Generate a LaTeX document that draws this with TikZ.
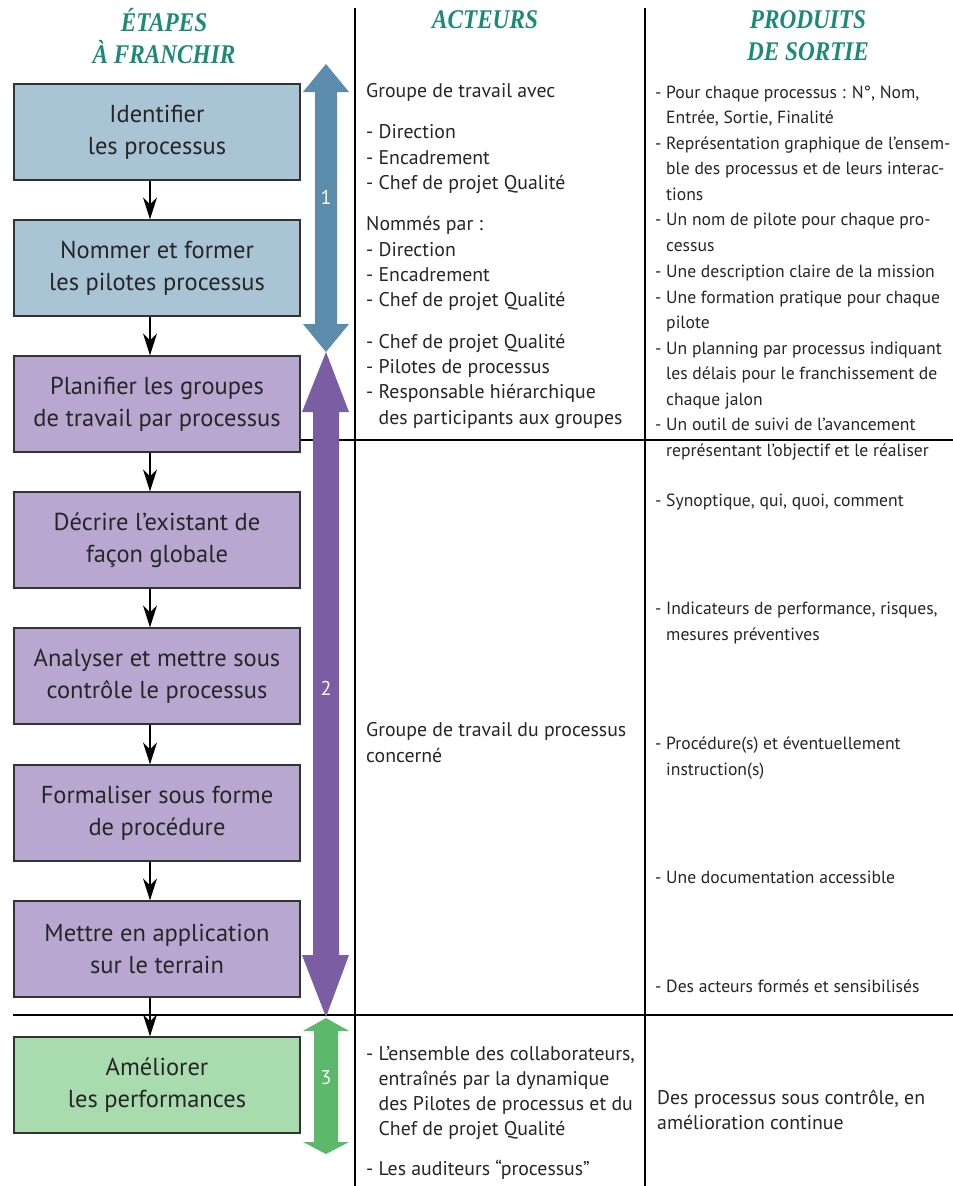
\documentclass[tikz,border=0pt]{standalone}
\usepackage{fontspec}
\setmainfont{PT Sans}
\newfontfamily\hdrfont{Liberation Serif}
\usetikzlibrary{arrows.meta}
\definecolor{blueF}{HTML}{A9C4D4}
\definecolor{blueA}{HTML}{5B8CAB}
\definecolor{purpF}{HTML}{B8A8D1}
\definecolor{purpA}{HTML}{7B5DA3}
\definecolor{greenF}{HTML}{A8DCAE}
\definecolor{greenA}{HTML}{5CB86A}
\definecolor{hdr}{HTML}{1B8B77}
\definecolor{boxline}{HTML}{333333}
\begin{document}
\begin{tikzpicture}[x=1pt,y=-1pt,
  stepbox/.style={draw=boxline, line width=1.3pt, minimum width=286pt, minimum height=96pt,
    align=center, inner sep=0pt, text=black!85, font=\fontsize{24.5}{32}\selectfont},
  conn/.style={line width=1.2pt, -{Stealth[length=22pt,width=14pt,inset=7pt]}},
  rule/.style={line width=1.2pt, draw=black},
  hdrtxt/.style={text=hdr, align=center, font=\hdrfont\bfseries\itshape\fontsize{27}{32}\selectfont},
  coltxt/.style={anchor=base west, inner sep=0pt, text=black!85, font=\fontsize{19.8}{25}\selectfont},
  prodtxt/.style={coltxt, font=\fontsize{17.6}{25}\selectfont},
  numtxt/.style={text=white, font=\fontsize{20}{24}\selectfont}]
\useasboundingbox (0,0) rectangle (953,1186);
\fill[white] (0,0) rectangle (953,1186);
% headers
\node[hdrtxt] (h1) at (164,36) {\scalebox{0.86}[1]{ÉTAPES}\\[0pt]\scalebox{0.86}[1]{À FRANCHIR}};
\node[hdrtxt] (h2) at (485,20) {\scalebox{0.86}[1]{ACTEURS}};
\node[hdrtxt] (h3) at (808,36) {\scalebox{0.86}[1]{PRODUITS}\\[0pt]\scalebox{0.86}[1]{DE SORTIE}};
% rules
\draw[rule] (355,8) -- (355,1186);
\draw[rule] (645,8) -- (645,1186);
\draw[rule] (13,440) -- (953,440);
\draw[rule] (13,1015) -- (953,1015);
% big arrows
\fill[blueA] (326,64) -- (349,92) -- (337,92) -- (337,324) -- (349,324) -- (326,352) -- (303,324) -- (315,324) -- (315,92) -- (303,92) -- cycle;
\fill[purpA] (326,352) -- (349,412) -- (339,412) -- (339,955) -- (349,955) -- (326,1017) -- (302,955) -- (313,955) -- (313,412) -- (302,412) -- cycle;
\fill[greenA] (326,1018) -- (349,1031) -- (338,1031) -- (338,1142) -- (349,1142) -- (326,1154) -- (303,1142) -- (314,1142) -- (314,1031) -- (303,1031) -- cycle;
\node[numtxt] (n1) at (326,197) {1};
\node[numtxt] (n2) at (326,688) {2};
\node[numtxt] (n3) at (326,1078) {3};
% step boxes
\node[stepbox, fill=blueF] (b1) at (157,132) {Identifier\\les processus};
\node[stepbox, fill=blueF] (b2) at (157,268) {Nommer et former\\les pilotes processus};
\node[stepbox, fill=purpF] (b3) at (157,404) {Planifier les groupes\\de travail par processus};
\node[stepbox, fill=purpF] (b4) at (157,540) {Décrire l’existant de\\façon globale};
\node[stepbox, fill=purpF] (b5) at (157,676) {Analyser et mettre sous\\contrôle le processus};
\node[stepbox, fill=purpF] (b6) at (157,813) {Formaliser sous forme\\de procédure};
\node[stepbox, fill=purpF] (b7) at (157,949) {Mettre en application\\sur le terrain};
\node[stepbox, fill=greenF] (b8) at (157,1085) {Améliorer\\les performances};
\foreach \a/\b in {b1/b2,b2/b3,b3/b4,b4/b5,b5/b6,b6/b7,b7/b8}
  \draw[conn] ([xshift=-7pt]\a.south) -- ([xshift=-7pt]\b.north);
% actors column
\foreach \y/\t [count=\i] in {
  97/{Groupe de travail avec},
  138/{- Direction},
  164/{- Encadrement},
  189/{- Chef de projet Qualité},
  230/{Nommés par :},
  256/{- Direction},
  281/{- Encadrement},
  306/{- Chef de projet Qualité},
  348/{- Chef de projet Qualité},
  373/{- Pilotes de processus},
  398/{- Responsable hiérarchique},
  424/{\hphantom{- }des participants aux groupes},
  736/{Groupe de travail du processus},
  762/{concerné},
  1060/{- L’ensemble des collaborateurs,},
  1085/{\hphantom{- }entraînés par la dynamique},
  1110/{\hphantom{- }des Pilotes de processus et du},
  1135/{\hphantom{- }Chef de projet Qualité},
  1175/{- Les auditeurs “processus”}}
  \node[coltxt] (a\i) at (366,\y) {\t};
% products column
\foreach \y/\t [count=\i] in {
  98/{- Pour chaque processus : N°, Nom,},
  123/{\hphantom{- }Entrée, Sortie, Finalité},
  149/{- Représentation graphique de l'ensem-},
  174/{\hphantom{- }ble des processus et de leurs interac-},
  200/{\hphantom{- }tions},
  225/{- Un nom de pilote pour chaque pro-},
  251/{\hphantom{- }cessus},
  277/{- Une description claire de la mission},
  303/{- Une formation pratique pour chaque},
  328/{\hphantom{- }pilote},
  354/{- Un planning par processus indiquant},
  379/{\hphantom{- }les délais pour le franchissement de},
  405/{\hphantom{- }chaque jalon},
  430/{- Un outil de suivi de l’avancement},
  456/{\hphantom{- }représentant l’objectif et le réaliser},
  506/{- Synoptique, qui, quoi, comment},
  614/{- Indicateurs de performance, risques,},
  640/{\hphantom{- }mesures préventives},
  749/{- Procédure(s) et éventuellement},
  775/{\hphantom{- }instruction(s)},
  883/{- Une documentation accessible},
  992/{- Des acteurs formés et sensibilisés}}
  \node[prodtxt] (p\i) at (655,\y) {\t};
\node[coltxt] (q1) at (657,1104) {Des processus sous contrôle, en};
\node[coltxt] (q2) at (657,1129) {amélioration continue};
\end{tikzpicture}
\end{document}
